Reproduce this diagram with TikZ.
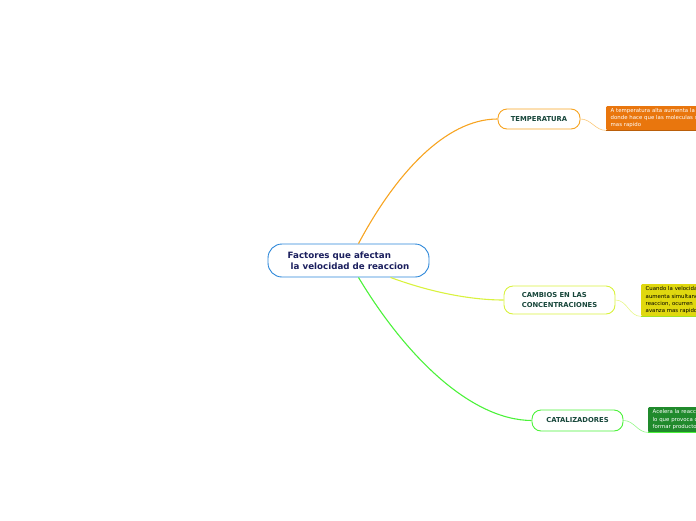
\documentclass[tikz,border=0pt]{standalone}
\usepackage{fontspec}
\setmainfont{DejaVu Sans}
\definecolor{rootline}{HTML}{2B86D9}
\definecolor{roottext}{HTML}{1B1F5E}
\definecolor{topictext}{HTML}{17463A}
\definecolor{tempcol}{HTML}{F7A421}
\definecolor{tempnote}{HTML}{E9760D}
\definecolor{conccol}{HTML}{D9F23E}
\definecolor{concnote}{HTML}{E0D80F}
\definecolor{catcol}{HTML}{4CF23A}
\definecolor{catnote}{HTML}{208A2C}
\begin{document}
\begin{tikzpicture}[x=1pt, y=-1pt,
  topic/.style={shape=rectangle, rounded corners=9pt, draw, line width=0.9pt,
    fill=white, align=left, text=topictext,
    font=\bfseries\fontsize{6.8}{9.8}\selectfont},
  note/.style={shape=rectangle, rounded corners=1pt, anchor=north west,
    inner xsep=4.5pt, inner ysep=2pt, text width=100pt, align=left,
    font=\fontsize{5.4}{7.3}\selectfont},
  branch/.style={line width=1.1pt},
  leaf/.style={line width=0.6pt, opacity=0.6}
  ]
\useasboundingbox (0,0) rectangle (696,520);
\clip (0,0) rectangle (696,520);

% central topic
\node[topic, draw=rootline, rounded corners=14pt, minimum width=161pt,
  minimum height=33pt, text=roottext,
  font=\bfseries\fontsize{8.7}{11}\selectfont] (root) at (348.5,260.5)
  {Factores que afectan\\ \ la velocidad de reaccion};

% main topics
\node[topic, draw=tempcol, minimum width=82pt, minimum height=20pt] (temp)
  at (539,119) {TEMPERATURA};
\node[topic, draw=conccol, minimum width=111pt, minimum height=28pt] (conc)
  at (559.5,300) {CAMBIOS EN LAS\\CONCENTRACIONES};
\node[topic, draw=catcol, minimum width=91pt, minimum height=21pt] (cat)
  at (577.5,420.5) {CATALIZADORES};

% notes
\node[note, fill=tempnote, text=white, minimum height=24pt] (tnote) at (606,106)
  {A temperatura alta aumenta la\\donde hace que las moleculas s\\mas rapido};
\node[note, fill=concnote, text=black, minimum height=32pt] (cnote) at (641,284)
  {Cuando la velocidad\\aumenta simultanea\\reaccion, ocurren\\avanza mas rapido};
\node[note, fill=catnote, text=white, minimum height=25pt] (knote) at (648,407)
  {Acelera la reacc\\lo que provoca q\\formar producto};
\draw[tempnote!80!black, line width=0.8pt] (tnote.south west) -- (tnote.south east);
\draw[concnote!60!catcol, line width=0.8pt] (cnote.south west) -- (cnote.south east);
\draw[catcol, line width=0.8pt] (knote.south west) -- (knote.south east);

% branches
\draw[branch, tempcol] ([xshift=10pt]root.north)
  .. controls (395,175) and (445,119) .. (temp.west);
\draw[branch, conccol] ([xshift=42pt]root.south)
  .. controls (430,292) and (470,300) .. (conc.west);
\draw[branch, catcol] ([xshift=10pt]root.south)
  .. controls (405,355) and (470,420) .. (cat.west);

% leaves
\draw[leaf, tempcol] (temp.east) to[out=0, in=180] (tnote.south west);
\draw[leaf, conccol] (conc.east) to[out=0, in=180] (cnote.south west);
\draw[leaf, catcol] (cat.east) to[out=0, in=180] (knote.south west);
\end{tikzpicture}
\end{document}
